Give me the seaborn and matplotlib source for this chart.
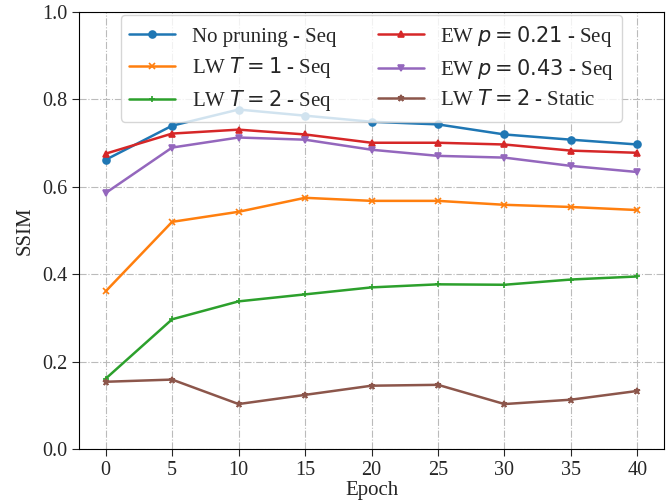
import numpy as np
import pandas as pd
import matplotlib
matplotlib.use("Agg")
import matplotlib.pyplot as plt
import seaborn as sns

epochs = [0, 5, 10, 15, 20, 25, 30, 35, 40]

no_pruning_seq = [0.662, 0.740, 0.777, 0.763, 0.749, 0.743, 0.720, 0.708, 0.697]
lw_t1_seq = [0.361, 0.520, 0.543, 0.575, 0.568, 0.568, 0.559, 0.554, 0.547]
lw_t2_seq = [0.161, 0.297, 0.338, 0.354, 0.370, 0.377, 0.376, 0.388, 0.395]
ew_p021_seq = [0.676, 0.722, 0.731, 0.720, 0.701, 0.701, 0.697, 0.683, 0.678]
ew_p043_seq = [0.586, 0.690, 0.713, 0.708, 0.685, 0.671, 0.667, 0.648, 0.634]
lw_t2_static = [0.154, 0.159, 0.103, 0.124, 0.145, 0.147, 0.103, 0.113, 0.133]

series_labels = [
    "No pruning - Seq",
    "LW $T=1$ - Seq",
    "LW $T=2$ - Seq",
    "EW $p=0.21$ - Seq",
    "EW $p=0.43$ - Seq",
    "LW $T=2$ - Static",
]
series_values = [no_pruning_seq, lw_t1_seq, lw_t2_seq, ew_p021_seq, ew_p043_seq, lw_t2_static]
markers = ["o", "x", "+", "^", "v", "*"]

sns.set_style("ticks")
plt.rcParams["font.family"] = ["Liberation Serif", "DejaVu Serif"]
plt.rcParams["mathtext.fontset"] = "dejavusans"

fig = plt.figure(figsize=(6.7, 5.04), dpi=100)
ax = fig.add_axes([0.118, 0.109, 0.873, 0.867])

palette = sns.color_palette("tab10", 6)
for i, (label, vals) in enumerate(zip(series_labels, series_values)):
    df = pd.DataFrame({"Epoch": epochs, "SSIM": vals})
    sns.lineplot(data=df, x="Epoch", y="SSIM", ax=ax, color=palette[i],
                 marker=markers[i], markersize=5, markeredgewidth=1.2,
                 markeredgecolor=palette[i], linewidth=1.8, label=label)

ax.set_ylim(0, 1.0)
ax.set_xticks(epochs)
ax.set_yticks([0.0, 0.2, 0.4, 0.6, 0.8, 1.0])
ax.tick_params(labelsize=14.5, direction="out", length=5)
ax.set_xlabel("Epoch", fontsize=15, labelpad=1)
ax.set_ylabel("SSIM", fontsize=15, labelpad=5)
ax.grid(True, linestyle="-.", color="#bbbbbb", linewidth=0.8)
for sp in ax.spines.values():
    sp.set_visible(True)
    sp.set_color("black")

ax.legend(loc="upper center", ncol=2, fontsize=15, handlelength=2.2,
          columnspacing=2.0, borderaxespad=0.15, labelspacing=0.4)

fig.savefig("out.png", dpi=100)
